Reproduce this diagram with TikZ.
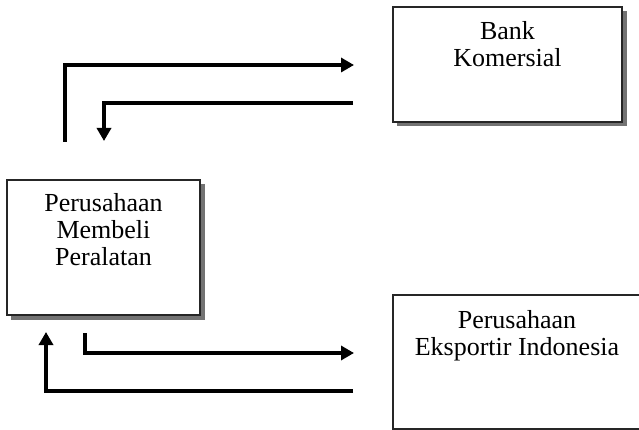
\documentclass[tikz,border=0pt]{standalone}
\usepackage{fontspec}
\setmainfont{Liberation Serif}
\usetikzlibrary{arrows.meta}
\begin{document}
\begin{tikzpicture}[x=1pt,y=-1pt,
  box/.style={draw=black!85,line width=1.3pt,fill=white,minimum width=#1,inner sep=0pt},
  lbl/.style={align=center,font=\fontsize{26}{27}\selectfont,inner sep=0pt,anchor=north},
  flow/.style={line width=4pt,-{Triangle[length=13pt,width=14pt]}}]
\useasboundingbox (0,0) rectangle (639,430);
% shadows
\fill[black!55] (397,11) rectangle (626.5,126.5);
\fill[black!55] (11,184) rectangle (204.5,319.5);
% boxes
\node[box=229pt,minimum height=115pt] (bank) at (507.5,64.5) {};
\node[box=193pt,minimum height=135pt] (firm) at (103.5,247.5) {};
\node[box=248pt,minimum height=134pt] (exp) at (517,362) {};
% labels
\node[lbl] (bankl) at (507.5,21) {Bank\\Komersial};
\node[lbl] (firml) at (103.5,193) {Perusahaan\\Membeli\\Peralatan};
\node[lbl] (expl) at (517,310) {Perusahaan\\Eksportir Indonesia};
% connector ends
\coordinate (a1) at (65,142);
\coordinate (a2) at (65,65);
\coordinate (a3) at (354,65);
\coordinate (b1) at (353,103);
\coordinate (b2) at (104,103);
\coordinate (b3) at (104,141);
\coordinate (c1) at (85,333);
\coordinate (c2) at (85,353);
\coordinate (c3) at (354,353);
\coordinate (d1) at (353,391);
\coordinate (d2) at (46,391);
\coordinate (d3) at (46,332);
\draw[flow] (a1) -- (a2) -- (a3);
\draw[flow] (b1) -- (b2) -- (b3);
\draw[flow] (c1) -- (c2) -- (c3);
\draw[flow] (d1) -- (d2) -- (d3);
\end{tikzpicture}
\end{document}
